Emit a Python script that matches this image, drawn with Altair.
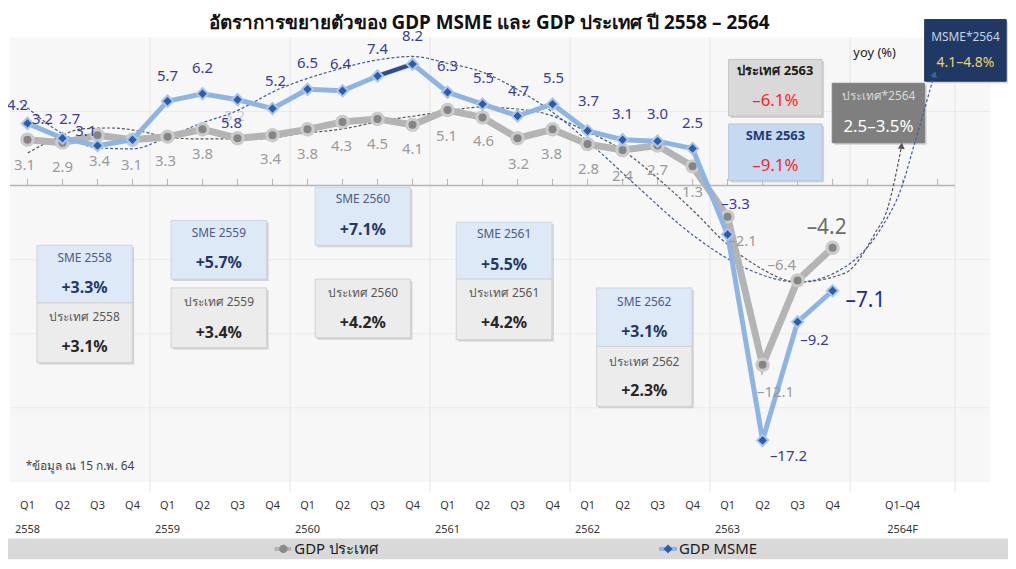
import altair as alt
import pandas as pd

# ---------------- data ----------------
quarter_labels = ["Q1", "Q2", "Q3", "Q4"] * 6
year_labels = ["2558", "2559", "2560", "2561", "2562", "2563"]
forecast_q_label = "Q1–Q4"
forecast_year_label = "2564F"

gdp_thai = [3.1, 2.9, 3.4, 3.1, 3.3, 3.8, 3.2, 3.4, 3.8, 4.3, 4.5, 4.1,
            5.1, 4.6, 3.2, 3.8, 2.8, 2.4, 2.7, 1.3, -2.1, -12.1, -6.4, -4.2]
gdp_msme = [4.2, 3.2, 2.7, 3.1, 5.7, 6.2, 5.8, 5.2, 6.5, 6.4, 7.4, 8.2,
            6.3, 5.5, 4.7, 5.5, 3.7, 3.1, 3.0, 2.5, -3.3, -17.2, -9.2, -7.1]

# dashed trend curves (quarter index, %)
trend_msme_x = [-0.22, 1.01, 1.99, 2.99, 3.96, 4.90, 5.83, 7.25, 8.67, 10.09, 11.00, 11.99, 12.93,
                13.98, 15.03, 16.25, 17.39, 19.09, 20.51, 22.02, 23.35, 24.40, 24.97, 25.34, 25.91]
trend_msme_y = [5.70, 3.49, 2.55, 2.48, 3.22, 4.16, 4.90, 6.58, 7.72, 8.52, 8.72, 8.26, 7.72,
                6.51, 4.90, 2.48, 0.0, -3.49, -5.57, -6.51, -5.50, -2.82, -0.13, 2.82, 7.52]
trend_thai_x = [0.01, 0.78, 1.57, 2.34, 3.19, 3.96, 4.90, 6.60, 7.74, 9.16, 10.09, 11.06, 11.99, 12.93,
                13.98, 14.83, 15.77, 17.02, 18.24, 19.10, 19.86, 20.80, 22.02, 23.35, 24.21, 24.58, 24.77, 24.97]
trend_thai_y = [2.21, 3.15, 3.83, 3.89, 3.69, 3.29, 3.15, 3.15, 3.49, 3.89, 4.36, 4.70, 5.03, 5.30,
                5.17, 4.83, 3.89, 2.35, 0.0, -1.88, -3.69, -5.37, -6.51, -5.91, -3.22, -1.48, 0.34, 2.68]

# annual summary boxes
box_title = ["SME 2558", "ประเทศ 2558", "SME 2559", "ประเทศ 2559", "SME 2560", "ประเทศ 2560",
             "SME 2561", "ประเทศ 2561", "SME 2562", "ประเทศ 2562", "ประเทศ 2563", "SME 2563",
             "ประเทศ*2564", "MSME*2564"]
box_value = ["+3.3%", "+3.1%", "+5.7%", "+3.4%", "+7.1%", "+4.2%", "+5.5%", "+4.2%", "+3.1%", "+2.3%",
             "–6.1%", "–9.1%", "2.5–3.5%", "4.1–4.8%"]
box_kind = ["sme", "th", "sme", "th", "sme", "th", "sme", "th", "sme", "th", "th63", "sme63", "th64", "msme64"]
box_x0 = [0.27, 0.27, 4.10, 4.10, 8.22, 8.22, 12.25, 12.25, 16.26, 16.26, 20.03, 20.03, 22.99, 25.63]
box_x1 = [2.99, 2.99, 6.83, 6.83, 10.94, 10.94, 14.98, 14.98, 18.98, 18.98, 22.70, 22.70, 25.63, 27.96]
box_top = [-4.03, -7.92, -2.35, -6.91, -0.13, -6.31, -2.48, -6.31, -6.91, -10.87, 8.52, 4.16, 6.91, 11.21]
box_bot = [-7.92, -11.95, -6.31, -10.94, -4.03, -10.27, -6.31, -10.40, -10.87, -14.90, 4.70, 0.34, 2.89, 7.05]
box_title_y = [-4.90, -8.86, -3.22, -7.85, -0.94, -7.25, -3.29, -7.25, -7.85, -11.88, 7.72, 3.36, 6.04, 10.0]
box_value_y = [-6.91, -10.87, -5.23, -9.93, -3.02, -9.26, -5.37, -9.26, -9.87, -13.89, 5.70, 1.34, 3.96, 8.26]

title_text = "อัตราการขยายตัวของ GDP MSME และ GDP ประเทศ ปี 2558 – 2564"
unit_text = "yoy (%)"
note_text = "*ข้อมูล ณ 15 ก.พ. 64"
legend_names = ["GDP ประเทศ", "GDP MSME"]

# ---------------- styles ----------------
FONT = "Tahoma, 'Noto Sans', 'DejaVu Sans', sans-serif"
PX_PER_Q = 986 / 28.0     # pixels per quarter on the x scale
PX_PER_PCT = 447 / 30.0   # pixels per percentage point on the y scale
label_dx_msme = [-10, -20, -28, -47, 0, 0, -6, 3, 0, -2, 0, 0, 0, 1, 1, 1, 1, 0, 0, 0, 8, 26, 17, 33]
label_dy_msme = [-18, -19, -27, -9, -25, -26, 23, -28, -26, -27, -27, -28, -26, -26, -25, -26,
                 -30, -26, -27, -26, -31, 16, 18, 10]
label_dx_thai = [-3, 0, 2, -1, -2, 0, -3, -2, 0, -1, 0, 0, -1, 1, 1, -1, 1, 0, 0, 0, 15, 13, -16, -6]
label_dy_thai = [26, 25, 26, 26, 24, 25, -22, 24, 25, 24, 25, 24, 26, 24, 26, 25, 25, 26, 25, 26,
                 24, 27, -15, -20]

kind_style = {
    "sme":    dict(fill="#dde9f7", stroke="#cdd6e2", tcol="#4a5a85", tsize=12, tbold=False, vcol="#1f3864", vsize=16, vbold=True),
    "th":     dict(fill="#ececec", stroke="#d2d2d2", tcol="#555555", tsize=12, tbold=False, vcol="#262626", vsize=16, vbold=True),
    "th63":   dict(fill="#d9d9d9", stroke="#c4c4c4", tcol="#1a1a1a", tsize=13, tbold=True, vcol="#ff1f1f", vsize=17, vbold=False),
    "sme63":  dict(fill="#c5d9f1", stroke="#b5c8e0", tcol="#1f3b70", tsize=13, tbold=True, vcol="#ff1f1f", vsize=17, vbold=False),
    "th64":   dict(fill="#7f7f7f", stroke="#7f7f7f", tcol="#d9d9d9", tsize=12, tbold=False, vcol="#ffffff", vsize=17, vbold=False),
    "msme64": dict(fill="#1f3864", stroke="#1f3864", tcol="#c9d3e3", tsize=12, tbold=False, vcol="#f2d36b", vsize=14, vbold=False),
}

XS = alt.Scale(domain=[-0.5, 27.5], nice=False, zero=False)
YS = alt.Scale(domain=[-20, 10], nice=False, zero=False)


def X(f):
    return alt.X(f"{f}:Q", scale=XS, axis=None)


def Y(f):
    return alt.Y(f"{f}:Q", scale=YS, axis=None)


def fmt(v):
    s = f"{abs(v):.1f}"
    return ("–" + s) if v < 0 else s


n = len(gdp_thai)
series = pd.DataFrame({"i": list(range(n)), "thai": gdp_thai, "msme": gdp_msme})

# grid / axis helpers
year_bounds = pd.DataFrame({"x": [3.5, 7.5, 11.5, 15.5, 19.5, 23.5, 26.5]})
hgrid = pd.DataFrame({"y": [5, -5, -10, -15]})
zero_df = pd.DataFrame({"x0": [-0.5], "x1": [26.5], "y": [0]})
ticks_df = pd.DataFrame({"i": list(range(27)), "t0": [0.0] * 27, "t1": [0.45] * 27})

vgrid = alt.Chart(year_bounds).mark_rule(color="#e4e4e4", strokeWidth=1).encode(
    x=X("x"), y=alt.value(0), y2=alt.value(457))
hgrid_l = alt.Chart(hgrid).mark_rule(color="#ebebeb", strokeWidth=1).encode(
    y=Y("y"), x=alt.value(0), x2=alt.value(986))
zero_l = alt.Chart(zero_df).mark_rule(color="#b5b5b5", strokeWidth=1.5).encode(
    x=X("x0"), x2="x1", y=Y("y"))
ticks_l = alt.Chart(ticks_df).mark_rule(color="#b5b5b5", strokeWidth=1).encode(
    x=X("i"), y=Y("t0"), y2="t1")

# trend curves
tm = pd.DataFrame({"x": trend_msme_x, "y": trend_msme_y})
tt = pd.DataFrame({"x": trend_thai_x, "y": trend_thai_y})
trend_m = alt.Chart(tm).mark_line(color="#3d5e95", strokeWidth=1.2, strokeDash=[3, 2],
                                  interpolate="monotone").encode(x=X("x"), y=Y("y"))
trend_t = alt.Chart(tt).mark_line(color="#555555", strokeWidth=1.2, strokeDash=[3, 2],
                                  interpolate="monotone").encode(x=X("x"), y=Y("y"))
arrow_m = alt.Chart(tm.tail(1)).mark_point(shape="triangle-up", filled=True, size=50, color="#3d5e95",
                                           angle=18, opacity=1).encode(x=X("x"), y=Y("y"))
arrow_t = alt.Chart(tt.tail(1)).mark_point(shape="triangle-up", filled=True, size=50, color="#555555",
                                           angle=6, opacity=1).encode(x=X("x"), y=Y("y"))

# series
thai_line = alt.Chart(series).mark_line(color="#b4b4b4", strokeWidth=7).encode(x=X("i"), y=Y("thai"))
thai_ring = alt.Chart(series).mark_point(shape="circle", filled=True, size=210, color="#cbcbcb",
                                         opacity=1).encode(x=X("i"), y=Y("thai"))
thai_dot = alt.Chart(series).mark_point(shape="circle", filled=True, size=65, color="#858585",
                                        opacity=1).encode(x=X("i"), y=Y("thai"))
msme_line = alt.Chart(series).mark_line(color="#8db4e2", strokeWidth=5).encode(x=X("i"), y=Y("msme"))
msme_hl = alt.Chart(series).transform_filter("datum.i >= 10 && datum.i <= 11").mark_line(
    color="#2f4d8c", strokeWidth=4).encode(x=X("i"), y=Y("msme"))
msme_pt = alt.Chart(series).mark_point(shape="diamond", filled=True, size=130, color="#2d5da8",
                                       stroke="#a8c6ec", strokeWidth=2, opacity=1).encode(x=X("i"), y=Y("msme"))


# value labels (pixel offsets turned into scale units)
def label_df(vals, dxs, dys, cols, col_last):
    return pd.DataFrame({
        "lx": [i + dx / PX_PER_Q for i, dx in enumerate(dxs)],
        "ly": [v - dy / PX_PER_PCT for v, dy in zip(vals, dys)],
        "t": [fmt(v) for v in vals],
        "fs": [15] * (len(vals) - 1) + [21],
        "c": cols[:len(vals) - 1] + [col_last],
    })


thai_cols = ["#9b9b9b"] * n
thai_cols[6] = "#c9c9c9"   # the label that hides behind the MSME label
lab_t = label_df(gdp_thai, label_dx_thai, label_dy_thai, thai_cols, "#6b6b6b")
lab_m = label_df(gdp_msme, label_dx_msme, label_dy_msme, ["#3b3b9c"] * n, "#1c2a8a")


def label_layer(df):
    return alt.Chart(df).mark_text(font=FONT, baseline="middle", align="center").encode(
        x=X("lx"), y=Y("ly"),
        text="t:N",
        size=alt.Size("fs:Q", scale=None, legend=None),
        color=alt.Color("c:N", scale=None, legend=None),
    )


lab_t_l = label_layer(lab_t)
lab_m_l = label_layer(lab_m)

# boxes
bx = pd.DataFrame({
    "x0": box_x0, "x1": box_x1, "top": box_top, "bot": box_bot,
    "xc": [(a + b) / 2 for a, b in zip(box_x0, box_x1)],
    "ty": box_title_y, "vy": box_value_y, "title": box_title, "value": box_value,
    "fill": [kind_style[k]["fill"] for k in box_kind],
    "stroke": [kind_style[k]["stroke"] for k in box_kind],
    "tcol": [kind_style[k]["tcol"] for k in box_kind],
    "tsize": [kind_style[k]["tsize"] for k in box_kind],
    "tbold": [kind_style[k]["tbold"] for k in box_kind],
    "vcol": [kind_style[k]["vcol"] for k in box_kind],
    "vsize": [kind_style[k]["vsize"] for k in box_kind],
    "vbold": [kind_style[k]["vbold"] for k in box_kind],
})
bx["sx0"] = bx["x0"] + 2 / PX_PER_Q
bx["sx1"] = bx["x1"] + 2 / PX_PER_Q
bx["stop"] = bx["top"] - 2 / PX_PER_PCT
bx["sbot"] = bx["bot"] - 2 / PX_PER_PCT

shadow = alt.Chart(bx).mark_rect(color="#c9c9c9", opacity=0.8).encode(
    x=X("sx0"), x2="sx1", y=Y("stop"), y2="sbot")
boxes = alt.Chart(bx).mark_rect(strokeWidth=1).encode(
    x=X("x0"), x2="x1", y=Y("top"), y2="bot",
    fill=alt.Fill("fill:N", scale=None), stroke=alt.Stroke("stroke:N", scale=None))


def box_text(field, yfield, colf, sizef, boldf, bold):
    return alt.Chart(bx).transform_filter(
        f"datum.{boldf} == {'true' if bold else 'false'}").mark_text(
        font=FONT, baseline="middle", align="center", fontWeight="bold" if bold else "normal").encode(
        x=X("xc"), y=Y(yfield), text=f"{field}:N",
        color=alt.Color(f"{colf}:N", scale=None, legend=None),
        size=alt.Size(f"{sizef}:Q", scale=None, legend=None))


bt1 = box_text("title", "ty", "tcol", "tsize", "tbold", False)
bt2 = box_text("title", "ty", "tcol", "tsize", "tbold", True)
bv1 = box_text("value", "vy", "vcol", "vsize", "vbold", False)
bv2 = box_text("value", "vy", "vcol", "vsize", "vbold", True)

# misc text
unit_l = alt.Chart(pd.DataFrame({"x": [24.2], "y": [8.93], "t": [unit_text]})).mark_text(
    font=FONT, fontSize=13, color="#222222", align="center", baseline="middle").encode(
    x=X("x"), y=Y("y"), text="t:N")
note_l = alt.Chart(pd.DataFrame({"x": [-0.05], "y": [-18.93], "t": [note_text]})).mark_text(
    font=FONT, fontSize=12, color="#444444", align="left", baseline="middle").encode(
    x=X("x"), y=Y("y"), text="t:N")
title_l = alt.Chart(pd.DataFrame({"t": [title_text]})).mark_text(
    font=FONT, fontSize=19, fontWeight="bold", color="#111111", align="center", baseline="middle").encode(
    x=alt.value(482), y=alt.value(-15), text="t:N")

# x labels
qdf = pd.DataFrame({"x": list(range(n)) + [25], "t": quarter_labels + [forecast_q_label]})
ydf = pd.DataFrame({"x": [0, 4, 8, 12, 16, 20, 25], "t": year_labels + [forecast_year_label]})
q_l = alt.Chart(qdf).mark_text(font=FONT, fontSize=11, color="#333333", align="center", baseline="middle").encode(
    x=X("x"), y=alt.value(471), text="t:N")
y_l = alt.Chart(ydf).mark_text(font=FONT, fontSize=11, color="#333333", align="center", baseline="middle").encode(
    x=X("x"), y=alt.value(495), text="t:N")

# legend band
one = pd.DataFrame({"a": [0]})
band = alt.Chart(one).mark_rect(color="#d9d9d9").encode(
    x=alt.value(-2), x2=alt.value(1004), y=alt.value(504), y2=alt.value(525))
lg_line_t = alt.Chart(one).mark_rule(color="#b4b4b4", strokeWidth=4).encode(
    x=alt.value(266), x2=alt.value(283), y=alt.value(514.5))
lg_pt_t = alt.Chart(one).mark_point(shape="circle", filled=True, size=70, color="#8a8a8a", opacity=1).encode(
    x=alt.value(275), y=alt.value(514.5))
lg_line_m = alt.Chart(one).mark_rule(color="#8db4e2", strokeWidth=4).encode(
    x=alt.value(653), x2=alt.value(671), y=alt.value(514.5))
lg_pt_m = alt.Chart(one).mark_point(shape="diamond", filled=True, size=80, color="#2d5da8", opacity=1).encode(
    x=alt.value(662), y=alt.value(514.5))
lg_txt = alt.Chart(pd.DataFrame({"x": [286, 673], "t": legend_names})).mark_text(
    font=FONT, fontSize=15, color="#1a1a1a", align="left", baseline="middle").encode(
    x=alt.X("x:Q", scale=None, axis=None), y=alt.value(515), text="t:N")

chart = alt.layer(
    vgrid, hgrid_l, zero_l, ticks_l,
    shadow, boxes, bt1, bt2, bv1, bv2,
    trend_t, trend_m, arrow_t, arrow_m,
    thai_line, thai_ring, thai_dot,
    msme_line, msme_hl, msme_pt,
    lab_t_l, lab_m_l,
    unit_l, note_l, title_l, q_l, y_l,
    band, lg_line_t, lg_pt_t, lg_line_m, lg_pt_m, lg_txt,
).properties(
    width=986, height=447,
    padding={"left": 2, "top": 28, "right": 18, "bottom": 78},
    autosize=alt.AutoSizeParams(type="none"),
    background="white",
).configure_view(stroke=None, fill="#f7f7f7")

chart.save("out.html", embed_options={"renderer": "svg", "actions": False})
